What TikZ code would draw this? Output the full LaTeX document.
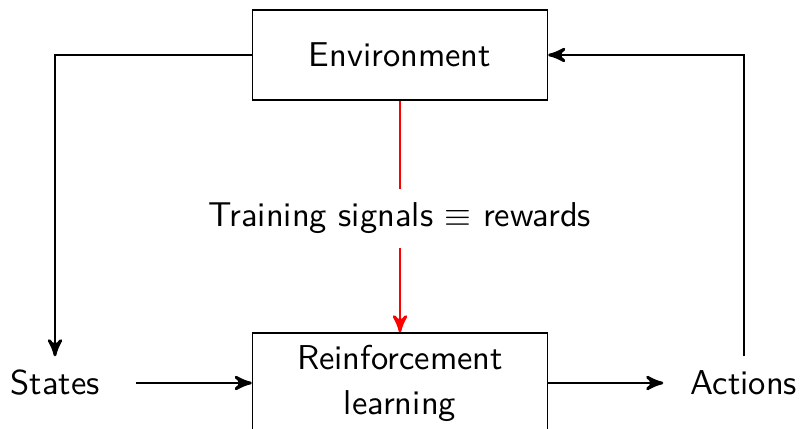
\documentclass[tikz,border=0pt]{standalone}
\usetikzlibrary{arrows}
\begin{document}
\begin{tikzpicture}[x=0.29pt,y=-0.29pt,
  box/.style={draw,thin,minimum width=295*0.29pt,inner sep=0pt,align=center,font=\sffamily},
  lab/.style={inner sep=0pt,font=\sffamily},
  conn/.style={thick,-stealth'}]
\useasboundingbox (0,0) rectangle (800,429);
\node[box,minimum height=90*0.29pt] (env) at (400,55) {Environment};
\node[box,minimum height=100*0.29pt] (rl) at (400,383) {Reinforcement\\[1pt]learning};
\node[lab,minimum width=160*0.29pt,minimum height=52*0.29pt] (st) at (55,383) {States};
\node[lab,minimum width=160*0.29pt,minimum height=52*0.29pt] (ac) at (744,383) {Actions};
\node[lab,minimum height=57*0.29pt] (sig) at (400,218.5) {Training signals $\equiv$ rewards};
\draw[conn] (env.west) -| (st.north);
\draw[conn] (ac.north) |- (env.east);
\draw[conn] (st.east) -- (rl.west);
\draw[conn] (rl.east) -- (ac.west);
\draw[thick,red] (env.south) -- (sig.north);
\draw[conn,red] (sig.south) -- (rl.north);
\end{tikzpicture}
\end{document}
